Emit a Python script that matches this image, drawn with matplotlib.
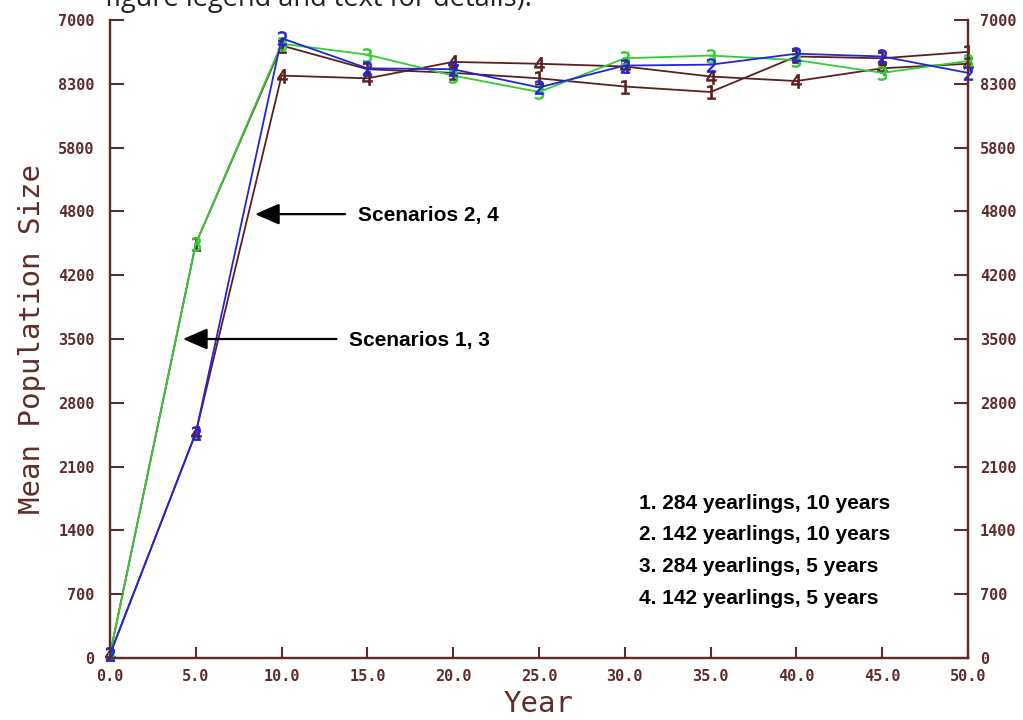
import matplotlib
matplotlib.use("Agg")
import matplotlib.pyplot as plt

# Data
years = [0, 5, 10, 15, 20, 25, 30, 35, 40, 45, 50]

s1 = [40, 4545, 6720, 6460, 6420, 6360, 6270, 6210, 6600, 6580, 6650]
s2 = [40, 2470, 6800, 6470, 6460, 6260, 6500, 6510, 6630, 6600, 6420]
s3 = [40, 4545, 6740, 6620, 6390, 6210, 6580, 6610, 6560, 6420, 6550]
s4 = [40, 2470, 6390, 6360, 6540, 6520, 6490, 6380, 6330, 6470, 6520]

y_ticks = [0, 700, 1400, 2100, 2800, 3500, 4200, 4900, 5600, 6300, 7000]
y_tick_labels = ["0", "700", "1400", "2100", "2800", "3500", "4200",
                 "4800", "5800", "8300", "7000"]
x_ticks = [0, 5, 10, 15, 20, 25, 30, 35, 40, 45, 50]
x_tick_labels = ["0.0", "5.0", "10.0", "15.0", "20.0", "25.0",
                 "30.0", "35.0", "40.0", "45.0", "50.0"]

legend_lines = [
    "1. 284 yearlings, 10 years",
    "2. 142 yearlings, 10 years",
    "3. 284 yearlings, 5 years",
    "4. 142 yearlings, 5 years",
]

brown = "#5a2020"
blue = "#2424d8"
green = "#33cc33"
axis_col = "#5e2c2c"

fig = plt.figure(figsize=(10.23, 7.2), dpi=100)
ax = fig.add_axes([110 / 1023, 1 - 658 / 720, 858 / 1023, 638 / 720])

# Series with digit markers
series = [(s1, brown, "1"), (s4, brown, "4"), (s3, green, "3"), (s2, blue, "2")]
for vals, col, mk in series:
    ax.plot(years, vals, color=col, lw=1.3, marker="$" + mk + "$",
            markersize=10, markeredgewidth=0.5, clip_on=False, zorder=3)

ax.set_xlim(0, 50)
ax.set_ylim(0, 7000)
ax.set_xticks(x_ticks)
ax.set_xticklabels(x_tick_labels)
ax.set_yticks(y_ticks)
ax.set_yticklabels(y_tick_labels)

# Right-hand axis repeats the left one
ax2 = ax.twinx()
ax2.set_ylim(0, 7000)
ax2.set_yticks(y_ticks)
ax2.set_yticklabels(y_tick_labels)

for lab in ax.get_xticklabels() + ax.get_yticklabels() + ax2.get_yticklabels():
    lab.set_fontfamily("DejaVu Sans Mono")
    lab.set_fontweight("bold")
    lab.set_fontsize(11)
    lab.set_color(axis_col)

ax.tick_params(axis="y", direction="in", length=10, width=1.5, color=axis_col,
               pad=11)
ax2.tick_params(axis="y", direction="in", length=10, width=1.5, color=axis_col,
                pad=8.5)
ax.tick_params(axis="x", direction="in", length=8, width=1.5, color=axis_col,
               pad=8)

for a in [ax, ax2]:
    for side in ["left", "right", "bottom"]:
        a.spines[side].set_color(axis_col)
        a.spines[side].set_linewidth(1.6)
    a.spines["top"].set_visible(False)

ax.set_ylabel("Mean Population Size", family="DejaVu Sans Mono", size=21,
              color=axis_col, labelpad=9)
ax.set_xlabel("Year", family="DejaVu Sans Mono", size=21, color=axis_col,
              labelpad=4)

# Arrows with scenario labels
arrow = dict(arrowstyle="-|>,head_length=1.5,head_width=0.65", color="black",
             lw=1.6, shrinkA=0, shrinkB=0)
ax.annotate("", xy=(8.45, 4870), xytext=(13.7, 4870), arrowprops=arrow)
ax.text(14.45, 4850, "Scenarios 2, 4", family="Liberation Sans",
        weight="bold", size=15, va="center")
ax.annotate("", xy=(4.25, 3500), xytext=(13.2, 3500), arrowprops=arrow)
ax.text(13.95, 3480, "Scenarios 1, 3", family="Liberation Sans",
        weight="bold", size=15, va="center")

# Scenario key
for i, line in enumerate(legend_lines):
    ax.text(30.8, 1700 - i * 350, line, family="Liberation Sans",
            weight="bold", size=15, va="center")

# Caption cut off at the top of the image
fig.text(105 / 1023, 1 - 6 / 720, "figure legend and text for details).",
         family="Open Sans", size=19.5, color="#222222", va="baseline")

fig.savefig("out.png", dpi=100, facecolor="white")
